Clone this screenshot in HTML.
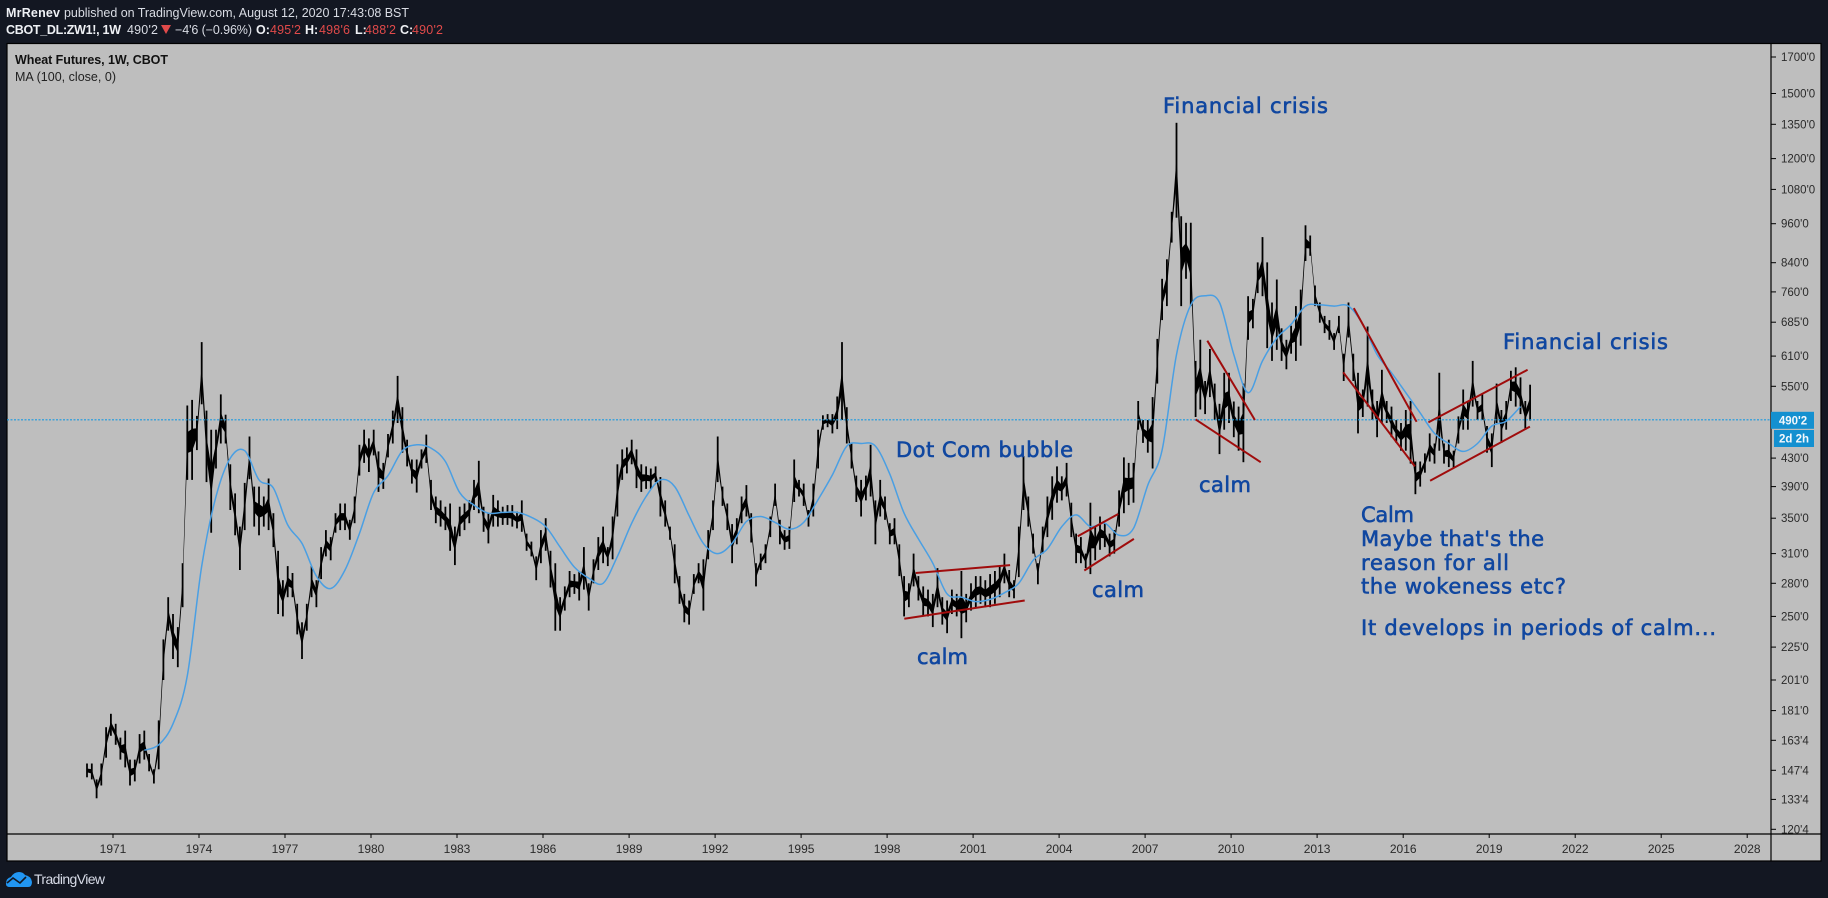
<!DOCTYPE html>
<html lang="en">
<head>
<meta charset="utf-8">
<title>Wheat Futures, 1W, CBOT</title>
<style>
html,body{margin:0;padding:0;background:#131722;width:1828px;height:898px;overflow:hidden}
svg{display:block}
text{font-family:"Liberation Sans","DejaVu Sans",sans-serif}
.note{font-family:"DejaVu Sans","Liberation Sans",sans-serif;font-size:21px;font-weight:400;fill:#1047a0;stroke:#1047a0;stroke-width:.6px}
.hd{font-size:12.5px;fill:#d9dce4}
.hb{font-size:12.5px;fill:#eef0f4;font-weight:700}
.hr{font-size:12.5px;fill:#e04a4a}
</style>
</head>
<body>
<svg id="chart" width="1828" height="898" viewBox="0 0 1828 898" xmlns="http://www.w3.org/2000/svg">
  <rect x="0" y="0" width="1828" height="898" fill="#131722"/>
  <text class="hb" x="6" y="17" textLength="54" lengthAdjust="spacing">MrRenev</text>
  <text class="hd" x="64" y="17" textLength="345" lengthAdjust="spacing">published on TradingView.com, August 12, 2020 17:43:08 BST</text>
  <text class="hb" x="6" y="34" textLength="115" lengthAdjust="spacing">CBOT_DL:ZW1!, 1W</text>
  <text class="hd" x="127" y="34" textLength="31" lengthAdjust="spacing">490'2</text>
  <polygon points="161,25 171,25 166,34" fill="#e04a4a"/>
  <text class="hd" x="175" y="34" textLength="77" lengthAdjust="spacing">−4'6 (−0.96%)</text>
  <text class="hb" x="256" y="34">O:</text>
  <text class="hr" x="270" y="34" textLength="31" lengthAdjust="spacing">495'2</text>
  <text class="hb" x="305" y="34">H:</text>
  <text class="hr" x="319" y="34" textLength="31" lengthAdjust="spacing">498'6</text>
  <text class="hb" x="355" y="34">L:</text>
  <text class="hr" x="365" y="34" textLength="31" lengthAdjust="spacing">488'2</text>
  <text class="hb" x="400" y="34">C:</text>
  <text class="hr" x="412" y="34" textLength="31" lengthAdjust="spacing">490'2</text>

  <rect x="7" y="43.5" width="1814" height="817.5" fill="#bebebe" stroke="#000" stroke-width="1.2"/>
  <g id="bars"></g>
  <path id="maLine" fill="none" stroke="#4a9fe3" stroke-width="1.5" stroke-linejoin="round"/>
  <line id="lastLine" x1="7" x2="1771" stroke="#1a9ae0" stroke-width="1.1" stroke-dasharray="2 1.5"/>
  <g id="trends"></g>

  <line x1="1771" y1="43.5" x2="1771" y2="861" stroke="#000" stroke-width="1.2"/>
  <line x1="7" y1="834" x2="1821" y2="834" stroke="#000" stroke-width="1.2"/>
  <g id="yTicks"></g>
  <g id="xTicks"></g>

  <rect id="lastBox" x="1771" y="412" width="43" height="17" fill="#1490d0"/>
  <text id="lastText" x="1793" y="424.5" text-anchor="middle" font-size="11.5" font-weight="700" fill="#f4f8fc">490'2</text>
  <rect x="1774" y="430" width="40" height="17" fill="#1490d0"/>
  <text x="1794" y="442.5" text-anchor="middle" font-size="11.5" font-weight="700" fill="#f4f8fc">2d 2h</text>

  <text x="15" y="64" font-size="12.5" font-weight="700" fill="#111" textLength="153" lengthAdjust="spacing">Wheat Futures, 1W, CBOT</text>
  <text x="15" y="81" font-size="12.5" fill="#222" textLength="101" lengthAdjust="spacing">MA (100, close, 0)</text>

  <text class="note" x="1163" y="113" textLength="165" lengthAdjust="spacing">Financial crisis</text>
  <text class="note" x="1503" y="349" textLength="165" lengthAdjust="spacing">Financial crisis</text>
  <text class="note" x="896" y="457" textLength="177" lengthAdjust="spacing">Dot Com bubble</text>
  <text class="note" x="917" y="664" textLength="51" lengthAdjust="spacing">calm</text>
  <text class="note" x="1092" y="597" textLength="52" lengthAdjust="spacing">calm</text>
  <text class="note" x="1199" y="492" textLength="52" lengthAdjust="spacing">calm</text>
  <text class="note" x="1361" y="522" textLength="53" lengthAdjust="spacing">Calm</text>
  <text class="note" x="1361" y="546" textLength="183" lengthAdjust="spacing">Maybe that's the</text>
  <text class="note" x="1361" y="570" textLength="148" lengthAdjust="spacing">reason for all</text>
  <text class="note" x="1361" y="593.5" textLength="205" lengthAdjust="spacing">the wokeness etc?</text>
  <text class="note" x="1361" y="635" textLength="355" lengthAdjust="spacing">It develops in periods of calm...</text>

  <g>
    <path d="M6 884 Q6 878 11 877 Q14 872 19 872 Q23 872 25 875 Q31 876 32 882 Q32 887 28 887 L10 887 Q6 887 6 884Z" fill="#2196f3"/>
    <polyline points="7,883 13,878 20,883 26,877" fill="none" stroke="#131722" stroke-width="1.6"/>
    <text x="34" y="884" font-size="14" fill="#d8dce8" textLength="71" lengthAdjust="spacing">TradingView</text>
  </g>
</svg>
<script>
// ---- data ----
const firstBarYear = 1970.093;
const barsPerYear = 6;
const highs = [151,151,143,151,171,179,173,165,169,153,153,167,169,156,148,175,231,267,252,241,300,515,525,497,640,506,474,474,535,499,421,381,340,395,463,390,390,377,401,356,313,283,297,290,261,245,261,297,283,317,336,328,356,368,368,348,377,450,474,460,474,440,423,467,506,570,512,458,428,428,443,466,399,377,372,364,368,340,364,368,372,399,426,364,356,379,372,364,366,366,358,372,332,323,307,336,350,313,300,267,
277,292,289,292,317,280,304,328,340,317,352,421,443,446,458,443,421,418,415,418,403,372,340,320,287,270,264,289,300,304,336,372,463,390,368,343,350,377,392,356,300,310,320,352,394,348,336,340,428,399,394,360,394,474,498,500,500,531,640,512,452,405,399,405,450,372,399,377,344,350,320,287,280,310,287,277,274,270,295,267,264,274,270,292,270,280,287,287,283,289,292,297,
310,293,283,340,433,377,332,300,340,377,404,418,404,423,369,332,328,310,369,340,352,344,332,336,385,431,423,423,
523,490,490,530,647,795,850,1000,1357,985,963,963,600,645,560,625,555,518,576,576,522,513,555,749,742,841,917,841,733,793,671,645,677,724,766,955,922,777,733,700,690,660,700,615,733,615,576,544,675,544,523,582,523,513,490,485,507,523,425,425,437,468,452,576,452,458,441,496,544,523,600,523,535,480,468,555,507,523,580,587,567,523,553];
const lows = [144,143,134,140,154,166,161,153,149,140,142,151,153,147,141,148,201,238,216,210,258,399,399,442,517,396,333,415,452,452,360,330,293,336,400,340,330,340,336,317,252,250,267,267,235,216,238,267,258,284,307,303,333,336,336,325,344,405,423,410,434,383,387,431,452,485,438,418,394,382,415,423,360,344,340,336,313,298,329,336,344,360,356,334,321,340,340,342,342,340,338,334,313,307,283,300,313,276,238,238,
255,267,270,264,274,255,280,293,300,297,304,352,399,408,421,388,383,387,387,396,352,340,325,280,261,245,243,270,280,255,304,336,396,365,336,300,320,344,352,322,277,293,300,328,365,320,314,315,370,377,365,340,352,415,474,478,468,475,490,452,415,370,352,372,377,320,352,348,320,320,287,250,258,277,264,250,250,241,258,243,236,252,250,232,245,255,258,261,258,258,261,267,
280,267,266,286,360,340,310,279,310,328,348,369,372,377,328,300,300,295,289,303,314,317,307,310,340,356,366,369,
474,453,438,415,555,690,724,900,980,724,795,724,495,508,500,530,490,436,474,485,462,441,424,645,671,757,749,627,600,623,600,583,615,600,632,845,860,724,684,660,645,623,660,560,650,560,468,495,513,490,462,485,485,462,453,441,441,422,380,390,409,425,422,441,422,417,415,452,474,474,513,490,490,438,417,485,453,474,523,513,500,474,489];
const maStartBar = 12;
const maBarStep = 3;
const maValues = [158,161,173,204,297,377,430,441,399,388,342,321,287,275,293,332,382,405,441,450,445,425,382,366,356,357,357,351,340,317,296,285,280,307,344,377,399,390,353,321,310,321,346,352,345,337,345,373,406,448,452,448,407,356,326,300,270,267,263,265,271,280,303,315,340,354,340,344,330,338,392,442,613,727,750,733,613,538,600,649,680,724,727,724,724,680,613,576,538,502,468,452,440,452,480,488,513];
const lastPrice = 490.25;
const priceTicks = [1700,1500,1350,1200,1080,960,840,760,685,610,550,430,390,350,310,280,250,225,201,181,163.5,147.5,133.5,120.5];
const priceTickLabels = ["1700'0","1500'0","1350'0","1200'0","1080'0","960'0","840'0","760'0","685'0","610'0","550'0","430'0","390'0","350'0","310'0","280'0","250'0","225'0","201'0","181'0","163'4","147'4","133'4","120'4"];
const yearTicks = [1971,1974,1977,1980,1983,1986,1989,1992,1995,1998,2001,2004,2007,2010,2013,2016,2019,2022,2025,2028];
const trendStartYears = [1999.0,1998.6,2004.65,2004.88,2009.17,2008.76,2014.28,2013.91,2016.88,2016.94];
const trendStartPrices = [290,248,329,292.5,643,491,719,577,486,398];
const trendEndYears = [2002.29,2002.8,2006.06,2006.61,2010.83,2011.03,2016.47,2016.41,2020.34,2020.42];
const trendEndPrices = [298,264,355,326,490,424,487,418,582,479];

// ---- axis functions ----
function xScale(year){ return 113 + (year - 1971) * 28.67; }
function yScale(price){ return 57 + (Math.log(1700) - Math.log(price)) * 291.8; }
function barYear(i){ return firstBarYear + i / barsPerYear; }

const NS = 'http://www.w3.org/2000/svg';
const barsG = document.getElementById('bars');

// continuous body joining neighbouring bars
const upper = [], lower = [];
for (let i = 0; i < highs.length; i++) {
  const x = xScale(barYear(i)).toFixed(1);
  const yh = yScale(highs[i]), yl = yScale(lows[i]);
  const inset = (yl - yh) * 0.36;
  upper.push(x + ',' + (yh + inset).toFixed(1));
  lower.unshift(x + ',' + (yl - inset).toFixed(1));
}
const body = document.createElementNS(NS, 'polygon');


body.setAttribute('points', upper.concat(lower).join(' '));
body.setAttribute('fill', '#000');
barsG.appendChild(body);

for (let i = 0; i < highs.length; i++) {
  const bar = document.createElementNS(NS, 'line');
  
  
  const x = xScale(barYear(i));
  bar.setAttribute('x1', x.toFixed(1));
  bar.setAttribute('x2', x.toFixed(1));
  bar.setAttribute('y1', yScale(highs[i]).toFixed(1));
  bar.setAttribute('y2', yScale(lows[i]).toFixed(1));
  bar.setAttribute('stroke', '#000');
  bar.setAttribute('stroke-width', '1.8');
  barsG.appendChild(bar);
}

// moving average drawn as a smooth curve through its values
const maPts = maValues.map(function(v, j){
  return [xScale(barYear(maStartBar + j * maBarStep)), yScale(v)];
});
let maPath = 'M' + maPts[0][0].toFixed(1) + ' ' + maPts[0][1].toFixed(1);
for (let j = 0; j < maPts.length - 1; j++) {
  const p0 = maPts[Math.max(j - 1, 0)], p1 = maPts[j], p2 = maPts[j + 1], p3 = maPts[Math.min(j + 2, maPts.length - 1)];
  const c1x = p1[0] + (p2[0] - p0[0]) / 6, c1y = p1[1] + (p2[1] - p0[1]) / 6;
  const c2x = p2[0] - (p3[0] - p1[0]) / 6, c2y = p2[1] - (p3[1] - p1[1]) / 6;
  maPath += ' C' + c1x.toFixed(1) + ' ' + c1y.toFixed(1) + ' ' + c2x.toFixed(1) + ' ' + c2y.toFixed(1) + ' ' + p2[0].toFixed(1) + ' ' + p2[1].toFixed(1);
}
document.getElementById('maLine').setAttribute('d', maPath);

const lastY = yScale(lastPrice);
const lastLine = document.getElementById('lastLine');
lastLine.setAttribute('y1', lastY.toFixed(1));
lastLine.setAttribute('y2', lastY.toFixed(1));
document.getElementById('lastBox').setAttribute('y', (lastY - 8).toFixed(1));
document.getElementById('lastText').setAttribute('y', (lastY + 4.5).toFixed(1));

const trendsG = document.getElementById('trends');
for (let i = 0; i < trendStartYears.length; i++) {
  const t = document.createElementNS(NS, 'line');
  
  
  t.setAttribute('x1', xScale(trendStartYears[i]).toFixed(1));
  t.setAttribute('y1', yScale(trendStartPrices[i]).toFixed(1));
  t.setAttribute('x2', xScale(trendEndYears[i]).toFixed(1));
  t.setAttribute('y2', yScale(trendEndPrices[i]).toFixed(1));
  t.setAttribute('stroke', '#a00c0c');
  t.setAttribute('stroke-width', '2');
  trendsG.appendChild(t);
}

const yG = document.getElementById('yTicks');
for (let i = 0; i < priceTicks.length; i++) {
  const y = yScale(priceTicks[i]);
  const m = document.createElementNS(NS, 'line');
  
  
  m.setAttribute('x1', '1771');
  m.setAttribute('x2', '1776');
  m.setAttribute('y1', y.toFixed(1));
  m.setAttribute('y2', y.toFixed(1));
  m.setAttribute('stroke', '#000');
  yG.appendChild(m);
  const l = document.createElementNS(NS, 'text');
  
  
  l.setAttribute('x', '1781');
  l.setAttribute('y', (y + 4).toFixed(1));
  l.setAttribute('font-size', '11.5');
  l.setAttribute('fill', '#2a2a2a');
  l.textContent = priceTickLabels[i];
  yG.appendChild(l);
}

const xG = document.getElementById('xTicks');
for (let i = 0; i < yearTicks.length; i++) {
  const x = xScale(yearTicks[i]);
  const m = document.createElementNS(NS, 'line');
  
  
  m.setAttribute('x1', x.toFixed(1));
  m.setAttribute('x2', x.toFixed(1));
  m.setAttribute('y1', '834');
  m.setAttribute('y2', '838');
  m.setAttribute('stroke', '#000');
  xG.appendChild(m);
  const l = document.createElementNS(NS, 'text');
  
  
  l.setAttribute('x', x.toFixed(1));
  l.setAttribute('y', '853');
  l.setAttribute('text-anchor', 'middle');
  l.setAttribute('font-size', '12');
  l.setAttribute('fill', '#2a2a2a');
  l.textContent = yearTicks[i];
  xG.appendChild(l);
}
</script>
</body>
</html>
